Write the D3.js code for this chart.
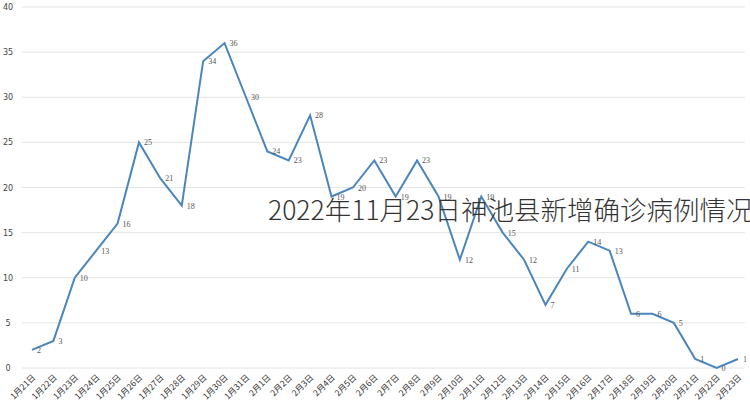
<!DOCTYPE html><html><head><meta charset="utf-8"><script src="https://cdn.jsdelivr.net/npm/d3@7"></script>
<style>body{margin:0;background:#fff}</style></head><body><svg id="c" width="750" height="408"></svg>
<script>
const categories=["1月21日","1月22日","1月23日","1月24日","1月25日","1月26日","1月27日","1月28日","1月29日","1月30日","1月31日","2月1日","2月2日","2月3日","2月4日","2月5日","2月6日","2月7日","2月8日","2月9日","2月10日","2月11日","2月12日","2月13日","2月14日","2月15日","2月16日","2月17日","2月18日","2月19日","2月20日","2月21日","2月22日","2月23日"];
const values=[2,3,10,13,16,25,21,18,34,36,30,24,23,28,19,20,23,19,23,19,12,19,15,12,7,11,14,13,6,6,5,1,0,1];
const yTicks=[0,5,10,15,20,25,30,35,40];
const title="2022年11月23日神池县新增确诊病例情况";
const svg=d3.select("#c");
const x=d3.scalePoint().domain(categories).range([32,738]);
const y=d3.scaleLinear().domain([0,40]).range([368,7]);
svg.append("g").selectAll("line").data(yTicks).join("line").attr("x1",22).attr("x2",745).attr("y1",d=>y(d)).attr("y2",d=>y(d)).attr("stroke","#e4e4e4");
svg.append("g").selectAll("text").data(yTicks).join("text").attr("x",8).attr("y",d=>y(d)+3).attr("text-anchor","middle").attr("font-size",8).attr("font-family","DejaVu Sans").attr("fill","#444").text(d=>d);
svg.append("g").selectAll("text").data(categories).join("text").attr("transform",d=>`translate(${x(d)+4},${378}) rotate(-45)`).attr("text-anchor","end").attr("font-size",8.5).attr("font-family","Noto Sans CJK SC").attr("fill","#333").text(d=>d);
svg.append("path").datum(values).attr("d",d3.line().x((d,i)=>x(categories[i])).y(d=>y(d))).attr("fill","none").attr("stroke","#4a86bc").attr("stroke-width",2);
svg.append("g").selectAll("text").data(values).join("text").attr("x",(d,i)=>x(categories[i])+5).attr("y",d=>y(d)+3).attr("font-size",8).attr("font-family","Liberation Serif").attr("fill","#555").text(d=>d);
svg.append("text").attr("x",268).attr("y",220).attr("font-size",26.5).attr("font-family","Noto Sans CJK SC").attr("font-weight",300).attr("fill","#333").text(title);
</script></body></html>
